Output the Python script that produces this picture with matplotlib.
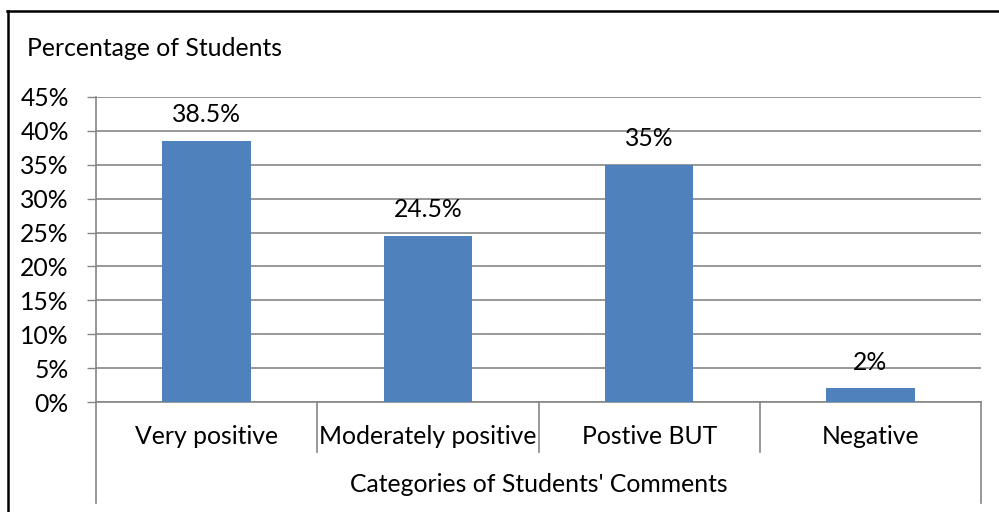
import numpy as np
import matplotlib
matplotlib.use("Agg")
import matplotlib.pyplot as plt
from matplotlib.lines import Line2D
from matplotlib.ticker import FuncFormatter

# student comment categories and share of students
categories = ["Very positive", "Moderately positive", "Postive BUT", "Negative"]
percentages = [38.5, 24.5, 35, 2]
value_labels = ["38.5%", "24.5%", "35%", "2%"]
y_ticks = [0, 5, 10, 15, 20, 25, 30, 35, 40, 45]

plt.rcParams["font.family"] = ["Lato", "DejaVu Sans"]
FS = 17.8
GRID = "#868686"
BAR = "#4F81BD"

W, H = 999, 512
fig = plt.figure(figsize=(W / 100, H / 100), dpi=100)

# plot area in pixel terms
left, right, bottom, top = 96, 981, 402, 97
ax = fig.add_axes([left / W, 1 - bottom / H, (right - left) / W, (bottom - top) / H])

x = np.arange(len(categories))
ax.bar(x, percentages, width=0.4, color=BAR, zorder=3)
ax.set_xlim(-0.5, len(categories) - 0.5)
ax.set_ylim(0, 45)

ax.set_yticks(y_ticks)
ax.yaxis.set_major_formatter(FuncFormatter(lambda v, p: f"{int(v)}%"))
ax.tick_params(axis="y", length=6.5, width=1, color=GRID, pad=13, labelsize=FS)
ax.grid(axis="y", color=GRID, linewidth=1.2, zorder=0)
ax.set_xticks([])

for s in ["top", "right"]:
    ax.spines[s].set_visible(False)
for s in ["left", "bottom"]:
    ax.spines[s].set_color(GRID)
    ax.spines[s].set_linewidth(1.2)

# value labels above each bar
for xi, v, lab in zip(x, percentages, value_labels):
    ax.annotate(lab, (xi, v), xytext=(0, 19), textcoords="offset points",
                ha="center", va="center", fontsize=FS)

# multi-level category axis: separators and labels
tr = ax.get_xaxis_transform()
ph = bottom - top
for b in np.arange(-0.5, len(categories), 1.0):
    outer = b in (-0.5, len(categories) - 0.5)
    depth = 101 if outer else 50
    ax.add_line(Line2D([b, b], [0, -depth / ph], transform=tr, color=GRID,
                       linewidth=1.2, clip_on=False))
for xi, c in zip(x, categories):
    ax.text(xi, -35 / ph, c, transform=tr, ha="center", va="center", fontsize=FS)
ax.text(0.5, -83 / ph, "Categories of Students' Comments", transform=ax.transAxes,
        ha="center", va="center", fontsize=FS)

fig.text(27 / W, 1 - 49 / H, "Percentage of Students", ha="left", va="center",
         fontsize=FS)

# chart border (left and top edges)
fig.add_artist(Line2D([7.5 / W, 7.5 / W], [0, 1 - 11 / H], color="black", linewidth=1.8))
fig.add_artist(Line2D([6.6 / W, 1], [1 - 11 / H, 1 - 11 / H], color="black", linewidth=1.8))

fig.savefig("out.png", dpi=100)
